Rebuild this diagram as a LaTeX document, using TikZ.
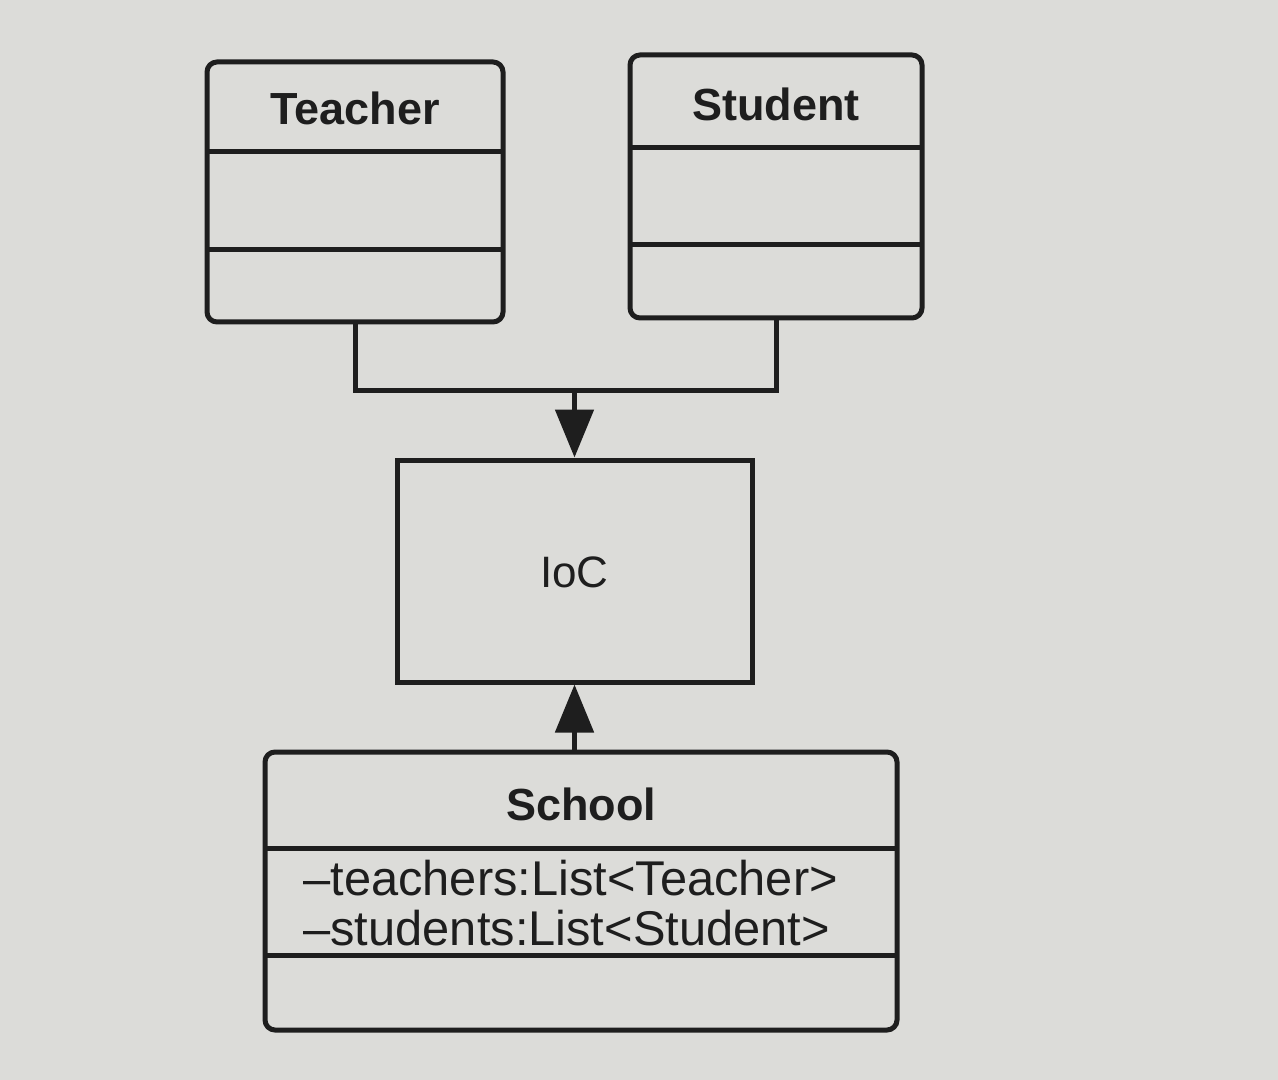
\documentclass[tikz,border=0pt]{standalone}
\usepackage{fontspec}
\setmainfont{Liberation Sans}
\usetikzlibrary{arrows.meta}
\definecolor{bgc}{RGB}{220,220,217}
\definecolor{ink}{RGB}{30,30,30}
\begin{document}
\begin{tikzpicture}[x=0.5pt,y=-0.5pt,
  cls/.style={draw=ink,line width=2.5pt,rounded corners=5pt,inner sep=0pt},
  plainbox/.style={draw=ink,line width=2.5pt,inner sep=0pt},
  divider/.style={draw=ink,line width=2.5pt},
  title/.style={font=\bfseries\fontsize{22.5}{26}\selectfont,text=ink,inner sep=0pt},
  attr/.style={font=\fontsize{24.4}{26}\selectfont,text=ink,inner sep=0pt,anchor=west},
  conn/.style={draw=ink,line width=2.5pt},
  arr/.style={draw=ink,line width=2.5pt,-{Triangle[length=24pt,width=19pt]}}]
\fill[bgc] (0,0) rectangle (1278,1080);
\useasboundingbox (0,0) rectangle (1278,1080);
% Teacher
\node[cls,minimum width=148pt,minimum height=130pt] (teacher) at (355,192) {};
\node[title] (teachert) at (355,108) {Teacher};
\draw[divider] (207,152) -- (503,152);
\draw[divider] (207,250) -- (503,250);
% Student
\node[cls,minimum width=146pt,minimum height=131.5pt] (student) at (776,186.5) {};
\node[title] (studentt) at (776,104) {Student};
\draw[divider] (630,148) -- (922,148);
\draw[divider] (630,245) -- (922,245);
% IoC
\node[plainbox,minimum width=177.5pt,minimum height=111pt] (ioc) at (574.5,571) {};
\node[font=\fontsize{22}{26}\selectfont,text=ink,inner sep=0pt] (ioct) at (574.5,572) {IoC};
% School
\node[cls,minimum width=316pt,minimum height=139pt] (school) at (581,891) {};
\node[title] (schoolt) at (581,804) {School};
\draw[divider] (265,848) -- (897,848);
\draw[divider] (265,955) -- (897,955);
\node[attr] (a1) at (303,878) {–teachers:List<Teacher>};
\node[attr] (a2) at (303,928) {–students:List<Student>};
% connectors
\coordinate (j) at (574.5,390);
\draw[conn] (teacher.south) |- (j) -| (student.south);
\draw[arr] (j) -- (ioc.north);
\draw[arr] (school.north -| ioc.south) -- (ioc.south);
\end{tikzpicture}
\end{document}
